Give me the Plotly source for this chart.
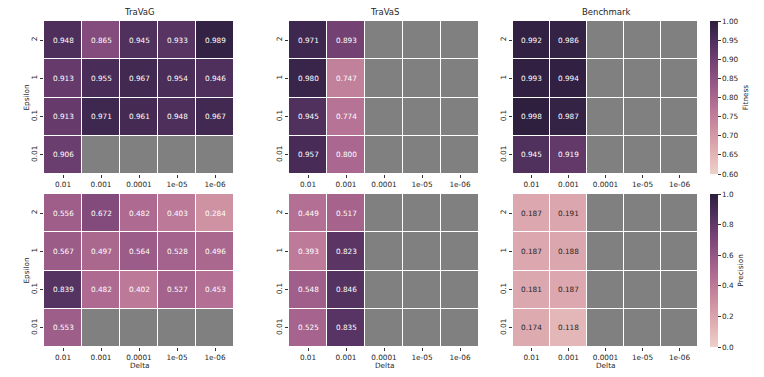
import numpy as np
import plotly.graph_objects as go

# Grid labels
deltas = ["0.01", "0.001", "0.0001", "1e-05", "1e-06"]
epsilons = ["2", "1", "0.1", "0.01"]
titles = ["TraVaG", "TraVaS", "Benchmark"]

# Fitness values (rows = epsilon 2, 1, 0.1, 0.01)
fitness_travag = [[0.948, 0.865, 0.945, 0.933, 0.989],
                  [0.913, 0.955, 0.967, 0.954, 0.946],
                  [0.913, 0.971, 0.961, 0.948, 0.967],
                  [0.906, None, None, None, None]]
fitness_travas = [[0.971, 0.893, None, None, None],
                  [0.980, 0.747, None, None, None],
                  [0.945, 0.774, None, None, None],
                  [0.957, 0.800, None, None, None]]
fitness_bench = [[0.992, 0.986, None, None, None],
                 [0.993, 0.994, None, None, None],
                 [0.998, 0.987, None, None, None],
                 [0.945, 0.919, None, None, None]]

# Precision values
precision_travag = [[0.556, 0.672, 0.482, 0.403, 0.284],
                    [0.567, 0.497, 0.564, 0.528, 0.496],
                    [0.839, 0.482, 0.402, 0.527, 0.453],
                    [0.553, None, None, None, None]]
precision_travas = [[0.449, 0.517, None, None, None],
                    [0.393, 0.823, None, None, None],
                    [0.548, 0.846, None, None, None],
                    [0.525, 0.835, None, None, None]]
precision_bench = [[0.187, 0.191, None, None, None],
                   [0.187, 0.188, None, None, None],
                   [0.181, 0.187, None, None, None],
                   [0.174, 0.118, None, None, None]]

fitness_range = (0.6, 1.0)
precision_range = (0.0, 1.0)


# seaborn default cubehelix palette (light -> dark)
def cubehelix(t, start=0.0, rot=0.4, hue=0.8, light=0.85, dark=0.15):
    x = light + t * (dark - light)
    a = hue * x * (1 - x) / 2
    phi = 2 * np.pi * (start / 3 + rot * x)
    r = x + a * (-0.14861 * np.cos(phi) + 1.78277 * np.sin(phi))
    g = x + a * (-0.29227 * np.cos(phi) - 0.90649 * np.sin(phi))
    b = x + a * (1.97294 * np.cos(phi))
    return [min(max(c, 0), 1) for c in (r, g, b)]


def to_rgb(c):
    return "rgb(%d,%d,%d)" % tuple(round(v * 255) for v in c)


colorscale = [[t, to_rgb(cubehelix(t))] for t in np.linspace(0, 1, 21)]


def text_color(v, vmin, vmax):
    t = (v - vmin) / (vmax - vmin)
    rgb = cubehelix(min(max(t, 0), 1))
    lin = [c / 12.92 if c <= 0.03928 else ((c + 0.055) / 1.055) ** 2.4 for c in rgb]
    lum = 0.2126 * lin[0] + 0.7152 * lin[1] + 0.0722 * lin[2]
    return "#262626" if lum > 0.408 else "white"


# page body has an 8px margin, so the figure is drawn a bit smaller and offset
OFF = 8
W, H = 764 - 2 * OFF, 377 - 2 * OFF


def px_x(p):
    return (p - OFF) / W


def px_y(p):
    return 1 - (p - OFF) / H


col_px = [(44, 234), (289, 479), (513, 698)]
row_px = [(21, 174), (194, 347)]

panels = [
    (fitness_travag, 0, 0, "coloraxis", fitness_range),
    (fitness_travas, 0, 1, "coloraxis", fitness_range),
    (fitness_bench, 0, 2, "coloraxis", fitness_range),
    (precision_travag, 1, 0, "coloraxis2", precision_range),
    (precision_travas, 1, 1, "coloraxis2", precision_range),
    (precision_bench, 1, 2, "coloraxis2", precision_range),
]

fig = go.Figure()
annotations = []
font = "DejaVu Sans"
xi = list(range(len(deltas)))
yi = list(range(len(epsilons)))

for k, (z, r, c, cax, rng) in enumerate(panels):
    n = k + 1
    xa = "x" if n == 1 else "x%d" % n
    ya = "y" if n == 1 else "y%d" % n
    # gray background for missing cells
    fig.add_trace(go.Heatmap(x=xi, y=yi, z=[[0] * len(deltas) for _ in epsilons],
                             colorscale=[[0, "#808080"], [1, "#808080"]], showscale=False,
                             xgap=1, ygap=1, hoverinfo="skip", xaxis=xa, yaxis=ya))
    fig.add_trace(go.Heatmap(x=xi, y=yi, z=z, coloraxis=cax,
                             xgap=1, ygap=1, xaxis=xa, yaxis=ya))
    for i, row in enumerate(z):
        for j, v in enumerate(row):
            if v is None:
                continue
            annotations.append(dict(x=j, y=i, xref=xa, yref=ya,
                                    text="%.3f" % v, showarrow=False,
                                    xanchor="center", yanchor="middle",
                                    font=dict(size=7.3, color=text_color(v, *rng), family=font)))
    x0, x1 = col_px[c]
    y0, y1 = row_px[r]
    axis_common = dict(showgrid=False, zeroline=False, showline=False,
                       ticks="outside", ticklen=3, tickwidth=0.8, tickcolor="#333",
                       tickfont=dict(size=7.3, color="#262626", family=font), automargin=False)
    fig.layout["xaxis" if n == 1 else "xaxis%d" % n] = dict(
        domain=[px_x(x0), px_x(x1)], anchor=ya, tickvals=xi, ticktext=deltas,
        range=[-0.5, 4.5], **axis_common)
    fig.layout["yaxis" if n == 1 else "yaxis%d" % n] = dict(
        domain=[px_y(y1), px_y(y0)], anchor=xa, tickvals=yi, ticktext=epsilons,
        range=[3.5, -0.5], tickangle=-90, **axis_common)

# panel titles
for c, t in enumerate(titles):
    x0, x1 = col_px[c]
    annotations.append(dict(x=px_x((x0 + x1) / 2), y=px_y(12), xref="paper", yref="paper",
                            xanchor="center", yanchor="middle",
                            text=t, showarrow=False, font=dict(size=8.5, color="#262626", family=font)))

# axis labels
for r in range(2):
    y0, y1 = row_px[r]
    annotations.append(dict(x=px_x(26), y=px_y((y0 + y1) / 2), xref="paper", yref="paper",
                            xanchor="center", yanchor="middle",
                            text="Epsilon", textangle=-90, showarrow=False,
                            font=dict(size=7.3, color="#262626", family=font)))
for c in range(3):
    x0, x1 = col_px[c]
    annotations.append(dict(x=px_x((x0 + x1) / 2), y=px_y(365), xref="paper", yref="paper",
                            xanchor="center", yanchor="middle",
                            text="Delta", showarrow=False,
                            font=dict(size=7.3, color="#262626", family=font)))


def colorbar(title, rows, tickvals, fmt):
    y0, y1 = rows
    return dict(x=px_x(710), xanchor="left", xpad=0, ypad=0, thickness=8,
                len=(y1 - y0) / H, lenmode="fraction",
                y=px_y((y0 + y1) / 2), yanchor="middle", outlinewidth=0,
                ticks="outside", ticklen=3, tickwidth=0.8, tickcolor="#333",
                tickvals=tickvals, tickformat=fmt,
                tickfont=dict(size=7.3, color="#262626", family=font),
                title=dict(text=title, side="right", font=dict(size=7.3, color="#262626", family=font)))


fig.update_layout(
    width=W, height=H,
    margin=dict(l=0, r=0, t=0, b=0),
    paper_bgcolor="white", plot_bgcolor="white",
    showlegend=False,
    annotations=annotations,
    coloraxis=dict(colorscale=colorscale, cmin=fitness_range[0], cmax=fitness_range[1],
                   colorbar=colorbar("Fitness", row_px[0],
                                     [0.6, 0.65, 0.7, 0.75, 0.8, 0.85, 0.9, 0.95, 1.0], ".2f")),
    coloraxis2=dict(colorscale=colorscale, cmin=precision_range[0], cmax=precision_range[1],
                    colorbar=colorbar("Precision", row_px[1],
                                      [0, 0.2, 0.4, 0.6, 0.8, 1.0], ".1f")),
)

fig.write_html("out.html")
